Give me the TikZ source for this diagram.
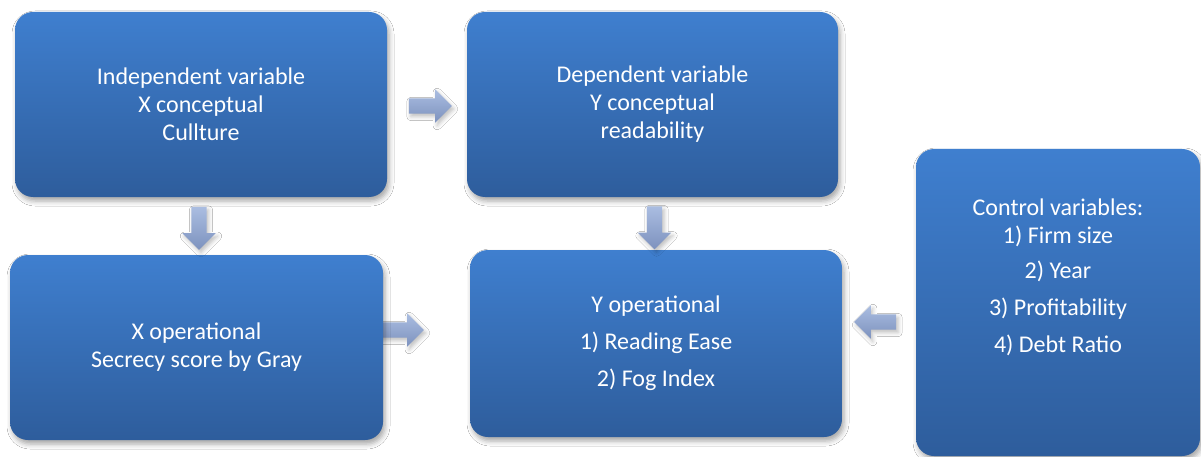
\documentclass[tikz,border=0pt]{standalone}
\usepackage{fontspec}
\setmainfont{Carlito}
\usetikzlibrary{shapes.arrows,shadows.blur}
\definecolor{boxtop}{HTML}{3F7FCF}
\definecolor{boxbot}{HTML}{2E5D9C}
\definecolor{arrtop}{HTML}{AABDE1}
\definecolor{arrbot}{HTML}{7D92BE}
\tikzset{
  vbox/.style={rectangle, rounded corners=18pt, inner sep=0pt,
    top color=boxtop, bottom color=boxbot, draw=none,
    text=white, align=center, font=\fontsize{24}{28}\selectfont,
    blur shadow={shadow xshift=2pt, shadow yshift=-4pt, shadow blur radius=5pt, shadow opacity=35}},
  vtxt/.style={text=white, align=center, font=\fontsize{24}{28}\selectfont, inner sep=0pt},
  barrow/.style={single arrow, draw=none, inner sep=7.5pt, single arrow head extend=9pt,
    top color=arrtop, bottom color=arrbot,
    blur shadow={shadow xshift=2pt, shadow yshift=-3pt, shadow blur radius=4pt, shadow opacity=25}}
}
\begin{document}
\begin{tikzpicture}[x=1pt,y=1pt]
\useasboundingbox[fill=white] (0,0) rectangle (1201,-457);
% arrow hidden partly under box 3
\node[barrow, minimum height=46pt] (a4) at (397,-330) {};
\node[vbox, minimum width=372pt, minimum height=185pt] (b1) at (201,-104.5)
  {Independent variable\\X conceptual\\Cullture};
\node[vbox, minimum width=371pt, minimum height=185pt] (b2) at (652.5,-104.5)
  {Dependent variable\\Y conceptual\\readability};
\node[vbox, minimum width=373pt, minimum height=185pt] (b3) at (196.5,-347.5)
  {X operational\\Secrecy score by Gray};
\node[vbox, minimum width=372pt, minimum height=187pt] (b4) at (656,-343.5)
  {Y operational\\[9pt]1) Reading Ease\\[9pt]2) Fog Index};
\node[vbox, minimum width=284pt, minimum height=307pt] (b5) at (1058,-302.5) {};
\node[vtxt] (t5) at (1058,-277)
  {Control variables:\\1) Firm size\\[7pt]2) Year\\[9pt]3) Profitability\\[9pt]4) Debt Ratio};
\node[barrow, minimum height=43pt] (a1) at (426.5,-106) {};
\node[barrow, minimum height=43pt, shape border rotate=270] (a2) at (199,-224.5) {};
\node[barrow, minimum height=43pt, shape border rotate=270] (a3) at (654.5,-224) {};
\node[barrow, minimum height=42pt, shape border rotate=180] (a5) at (879,-322) {};
\end{tikzpicture}
\end{document}
